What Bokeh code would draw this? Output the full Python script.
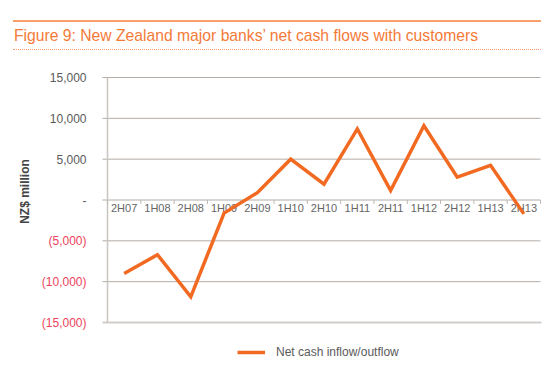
from bokeh.plotting import figure
from bokeh.models import Range1d, Legend, LegendItem, Div, ColumnDataSource
from bokeh.layouts import column
from bokeh.embed import file_html
from bokeh.resources import INLINE
from bokeh.core.properties import value
import math

# ---- data ----
categories = ["2H07", "1H08", "2H08", "1H09", "2H09", "1H10", "2H10",
              "1H11", "2H11", "1H12", "2H12", "1H13", "2H13"]
net_cash_flow = [-9000, -6700, -11850, -1600, 900, 5000, 1950,
                 8700, 1150, 9100, 2800, 4250, -1700]
y_ticks = [15000, 10000, 5000, 0, -5000, -10000, -15000]
y_tick_labels = ["15,000", "10,000", "5,000", "-", "(5,000)", "(10,000)", "(15,000)"]
title_text = "Figure 9: New Zealand major banks\u2019 net cash flows with customers"
series_name = "Net cash inflow/outflow"
y_label = "NZ$ million"

# ---- styles / layout ----
FONT = "Liberation Sans"
ORANGE = "#f26a21"
GRID = "#b3aca6"
GRAY_TXT = "#5a5a5a"
RED_TXT = "#ee3f5c"

FIG_W, FIG_H, FIG_TOP = 550, 317, 50
PL, PR, PT, PB = 107, 540, 77, 322          # plot-area edges on the page
n = len(categories)
y_min, y_max = min(y_ticks), max(y_ticks)
u = (PR - PL) / n                            # px per category
k = (PB - PT) / (y_max - y_min)              # px per NZ$ million
x0 = -0.5 - PL / u
x1 = n - 0.5 + (FIG_W - PR) / u
y1 = y_max + (PT - FIG_TOP) / k
y0 = y_min - (FIG_TOP + FIG_H - PB) / k

title = Div(text=title_text, width=528, height=30,
            styles={"margin": "20px 0 0 13px",
                    "border-top": "2px solid #f9a06a",
                    "border-bottom": "1px dotted #f9a06a",
                    "color": "#f47a38", "font-family": FONT,
                    "font-size": "15.7px", "line-height": "27px",
                    "padding": "0 0 0 1px", "box-sizing": "border-box",
                    "width": "528px", "height": "30px",
                    "white-space": "nowrap"})

p = figure(width=FIG_W, height=FIG_H, output_backend="svg", toolbar_location=None,
           x_range=Range1d(x0, x1), y_range=Range1d(y0, y1),
           min_border_left=0, min_border_right=0, min_border_top=0,
           min_border_bottom=0)
p.outline_line_color = None
p.axis.visible = False
p.grid.visible = False

xs = list(range(n))
left = -0.5
right = n - 0.5
tick_len = 5 / u

# horizontal gridlines (with their outward tick marks)
grid_vals = [t for t in y_ticks if t != y_min]
p.segment(x0=[left - tick_len] * len(grid_vals), x1=[right] * len(grid_vals),
          y0=grid_vals, y1=grid_vals, line_color=GRID, line_width=1)
# bottom boundary line (lighter, thicker)
p.segment(x0=[left - tick_len], x1=[right + 0.03], y0=[y_min], y1=[y_min],
          line_color="#d2cecb", line_width=2)
# vertical value axis line
p.segment(x0=[left], x1=[left], y0=[y_min], y1=[y_max],
          line_color="#c9c5c1", line_width=1.5)

# value tick labels, negatives in red
lab_colors = [RED_TXT if t < 0 else GRAY_TXT for t in y_ticks]
ysrc = ColumnDataSource(dict(x=[left] * len(y_ticks), y=y_ticks,
                             t=y_tick_labels, c=lab_colors))
p.text(x="x", y="y", text="t", source=ysrc, text_color="c",
       text_align="right", text_baseline="middle", x_offset=-21,
       text_font=value(FONT), text_font_size="12px")

# axis title
p.text(x=[left - (PL - 24) / u], y=[y_max - (191 - PT) / k], text=[y_label],
       angle=math.pi / 2, text_align="center", text_baseline="middle",
       text_font=value(FONT), text_font_size="12px", text_font_style="bold",
       text_color="#444444")

# category boundary ticks on the zero line
bounds = [i - 0.5 for i in range(n + 1)]
p.segment(x0=bounds, x1=bounds, y0=[0] * len(bounds),
          y1=[-4 / k] * len(bounds), line_color="#bdb8b3", line_width=1)

# category labels just under the zero line
src = ColumnDataSource(dict(x=xs, y=[0] * n, t=categories))
p.text(x="x", y="y", text="t", source=src, text_align="center",
       text_baseline="middle", y_offset=8, text_font=value(FONT),
       text_font_size="11px", text_color="#666666")

r = p.line(xs, net_cash_flow, line_color=ORANGE, line_width=3.5,
           line_join="miter")

legend = Legend(items=[LegendItem(label=series_name, renderers=[r])],
                location=(237, 8), orientation="horizontal",
                border_line_color=None, background_fill_alpha=0,
                label_text_font=FONT, label_text_font_size="12px",
                label_text_color=GRAY_TXT, glyph_width=28, glyph_height=14,
                label_height=14, label_standoff=11, padding=0, margin=0)
p.add_layout(legend, "center")

layout = column(title, p, spacing=0)
open("out.html", "w").write(file_html(layout, INLINE))
